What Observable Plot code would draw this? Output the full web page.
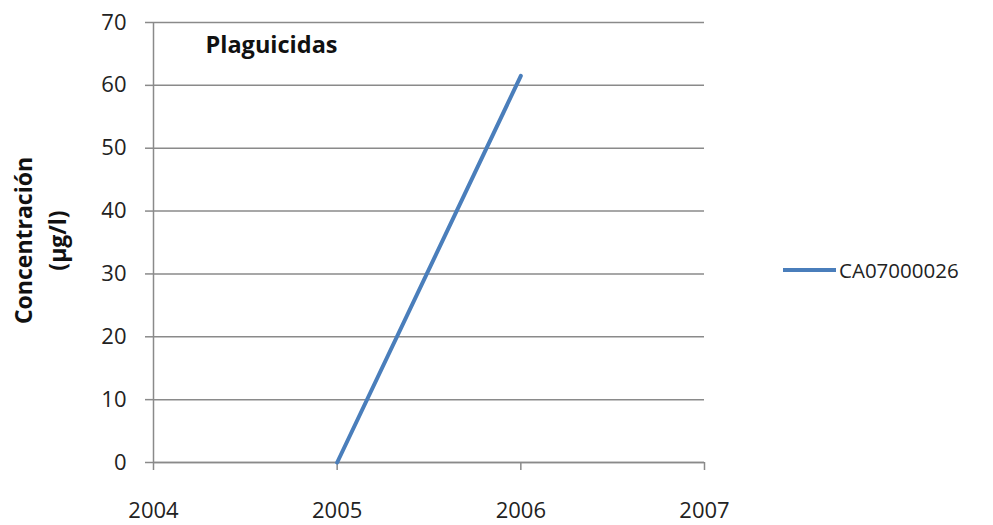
<!DOCTYPE html>
<html><head><meta charset="utf-8">
<script src="https://cdn.jsdelivr.net/npm/d3@7"></script>
<script src="https://cdn.jsdelivr.net/npm/@observablehq/plot@0.6"></script>
<style>
body{margin:0;background:#fff;}
#wrap{position:relative;width:993px;height:525px;font-family:"Open Sans",sans-serif;}
#legend{position:absolute;left:783px;top:256px;display:flex;align-items:center;font-size:20.5px;color:#222;}
#legend .sw{width:53px;height:3.5px;background:#4A7EBB;margin-right:3px;}
</style></head>
<body><div id="wrap"><div id="legend"><div class="sw"></div><span id="lname"></span></div></div>
<script>
const years = [2005, 2006];
const values = [0, 61.5];
const seriesName = "CA07000026";
const xTicks = [2004, 2005, 2006, 2007];
const yTicks = [0, 10, 20, 30, 40, 50, 60, 70];
const title = "Plaguicidas";
const yLabel = ["Concentración", "(µg/l)"];

const data = years.map((y, i) => ({year: y, value: values[i]}));
const gray = "#8a8a8a";

const chart = Plot.plot({
  width: 993, height: 525,
  marginLeft: 153, marginRight: 289, marginTop: 22, marginBottom: 63,
  style: {fontFamily: "'Open Sans', sans-serif", fontSize: "22px", color: "#222", background: "white"},
  x: {domain: [2004, 2007]},
  y: {domain: [0, 70]},
  marks: [
    Plot.gridY(yTicks, {stroke: gray, strokeOpacity: 1, strokeWidth: 1.5}),
    Plot.ruleX([2004], {stroke: gray, strokeWidth: 1.5}),
    Plot.axisY(yTicks, {tickSize: 8, tickPadding: 19, stroke: gray, strokeWidth: 1.5, label: null, fill: "#222", fontSize: 22}),
    Plot.axisX(xTicks, {tickSize: 8, tickPadding: 32, stroke: gray, strokeWidth: 1.5, label: null, fill: "#222", fontSize: 22, tickFormat: d => String(d)}),
    Plot.ruleY([0], {stroke: gray, strokeWidth: 1.5}),
    Plot.line(data, {x: "year", y: "value", stroke: "#4A7EBB", strokeWidth: 4}),
    Plot.text([title], {frameAnchor: "top-left", dx: 52, dy: 14, fontWeight: "bold", fontSize: 23.5, fill: "#111", textAnchor: "start"}),
    Plot.text([yLabel[0]], {frameAnchor: "left", dx: -129, dy: -2, rotate: -90, textAnchor: "middle", fontWeight: "bold", fontSize: 23, fill: "#111"}),
    Plot.text([yLabel[1]], {frameAnchor: "left", dx: -95, dy: -2, rotate: -90, textAnchor: "middle", fontWeight: "bold", fontSize: 23, fill: "#111"})
  ]
});
document.getElementById("wrap").prepend(chart);
document.getElementById("lname").textContent = seriesName;
</script></body></html>
